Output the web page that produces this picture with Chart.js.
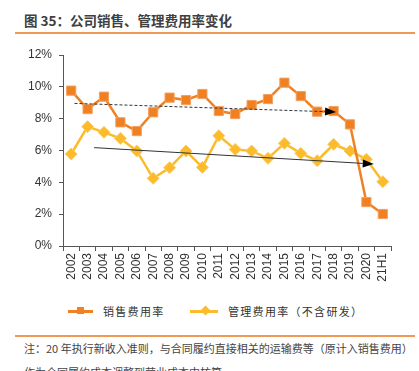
<!DOCTYPE html>
<html>
<head>
<meta charset="utf-8">
<script src="https://cdn.jsdelivr.net/npm/chart.js@4"></script>
<style>
  html, body { margin: 0; padding: 0; background: #fff; }
  body { width: 419px; height: 371px; position: relative; overflow: hidden; font-family: "Noto Sans CJK SC", "Liberation Sans", sans-serif; }
  .title { position: absolute; left: 24px; top: 10px; font-size: 13.5px; font-weight: bold; color: #404040; white-space: nowrap; }
  .rule { position: absolute; left: 15px; width: 400px; height: 1.5px; background: #ee9a55; }
  .chartbox { position: absolute; left: 0; top: 40px; width: 419px; height: 250px; }
  .legend { position: absolute; top: 303px; font-size: 11px; color: #333; letter-spacing: 1.3px; white-space: nowrap; display: flex; align-items: center; }
  .legend .ln { position: relative; width: 25px; height: 3px; margin-right: 10px; }
  .legend .mk { position: absolute; left: 9px; top: -2.5px; width: 7px; height: 7px; }
  .note { position: absolute; left: 24px; font-size: 11px; color: #444; white-space: nowrap; }
</style>
</head>
<body>
<div class="title">图 35：公司销售、管理费用率变化</div>
<div class="rule" style="top:32px"></div>
<div class="chartbox"><canvas id="c" width="419" height="250"></canvas></div>
<div class="legend" style="left:68px">
  <span class="ln" style="background:#f08122"><span class="mk" style="background:#f08122"></span></span>销售费用率
</div>
<div class="legend" style="left:190px">
  <span class="ln" style="background:#fbbb2b;width:28px"><span class="mk" style="background:#fbbb2b;transform:rotate(45deg);left:12px"></span></span>管理费用率（不含研发）
</div>
<div class="rule" style="top:335px"></div>
<div class="note" style="top:340px">注：20 年执行新收入准则，与合同履约直接相关的运输费等（原计入销售费用）</div>
<div class="note" style="top:364px">作为合同履约成本调整到营业成本中核算</div>
<script>
// 数据（%）
const years = ['2002','2003','2004','2005','2006','2007','2008','2009','2010','2011',
  '2012','2013','2014','2015','2016','2017','2018','2019','2020','21H1'];
const salesRate = [9.76, 8.6, 9.38, 7.77, 7.22, 8.4, 9.32, 9.17, 9.55, 8.48,
  8.29, 8.86, 9.23, 10.26, 9.42, 8.44, 8.48, 7.64, 2.76, 2.01];
const adminRate = [5.78, 7.5, 7.14, 6.76, 5.97, 4.25, 4.92, 5.97, 4.94, 6.93,
  6.07, 5.97, 5.51, 6.45, 5.82, 5.36, 6.39, 5.97, 5.45, 4.04];
const yTicks = [0, 2, 4, 6, 8, 10, 12];
// 趋势箭头：[类目序号, 数值]
const salesTrend = [[0.2, 8.96], [16.15, 8.42]];
const adminTrend = [[1.4, 6.18], [18.45, 5.15]];

// 画趋势箭头
const trendArrows = {
  id: 'trendArrows',
  afterDatasetsDraw(chart) {
    const { ctx, scales: { x, y } } = chart;
    const draw = (pts, dash) => {
      const x0 = x.getPixelForValue(pts[0][0]), y0 = y.getPixelForValue(pts[0][1]);
      const x1 = x.getPixelForValue(pts[1][0]), y1 = y.getPixelForValue(pts[1][1]);
      const ang = Math.atan2(y1 - y0, x1 - x0);
      const len = 11, half = 4;
      const bx = x1 - len * Math.cos(ang), by = y1 - len * Math.sin(ang);
      ctx.save();
      ctx.strokeStyle = '#333';
      ctx.lineWidth = 1;
      ctx.setLineDash(dash);
      ctx.beginPath();
      ctx.moveTo(x0, y0);
      ctx.lineTo(bx, by);
      ctx.stroke();
      ctx.setLineDash([]);
      ctx.fillStyle = '#000';
      ctx.beginPath();
      ctx.moveTo(x1, y1);
      ctx.lineTo(bx + half * Math.sin(ang), by - half * Math.cos(ang));
      ctx.lineTo(bx - half * Math.sin(ang), by + half * Math.cos(ang));
      ctx.closePath();
      ctx.fill();
      ctx.restore();
    };
    draw(salesTrend, [3, 2]);
    draw(adminTrend, []);
  }
};

new Chart(document.getElementById('c'), {
  type: 'line',
  data: {
    labels: years,
    datasets: [
      {
        label: '销售费用率',
        data: salesRate,
        borderColor: '#f08122',
        backgroundColor: '#f08122',
        borderWidth: 2.5,
        pointStyle: 'rect',
        pointRadius: 6.5,
        pointBorderWidth: 1,
        pointBorderColor: '#f5a060',
        tension: 0
      },
      {
        label: '管理费用率（不含研发）',
        data: adminRate,
        borderColor: '#fbbb2b',
        backgroundColor: '#fbbb2b',
        borderWidth: 2.5,
        pointStyle: 'rectRot',
        pointRadius: 6,
        pointBorderWidth: 1,
        pointBorderColor: '#fccd66',
        tension: 0
      }
    ]
  },
  options: {
    responsive: false,
    animation: false,
    layout: { padding: { top: 15, right: 28, left: 0, bottom: 0 } },
    plugins: { legend: { display: false }, tooltip: { enabled: false } },
    scales: {
      x: {
        offset: true,
        grid: { display: true, drawOnChartArea: false, offset: true, tickLength: 5, color: '#555' },
        border: { color: '#555', width: 1 },
        ticks: {
          color: '#333', minRotation: 90, maxRotation: 90, autoSkip: false, padding: 2,
          font: { family: 'Liberation Sans', size: 12 }
        },
        afterFit(s) { s.height = 44; }
      },
      y: {
        min: 0, max: 12,
        afterBuildTicks(s) { s.ticks = yTicks.map(v => ({ value: v })); },
        grid: { display: true, drawOnChartArea: false, tickLength: 4, color: '#555' },
        border: { color: '#555', width: 1 },
        ticks: {
          color: '#333', padding: 7,
          font: { family: 'Liberation Sans', size: 12 },
          callback: v => v + '%'
        },
        afterFit(s) { s.width = 63; }
      }
    }
  },
  plugins: [trendArrows]
});
</script>
</body>
</html>
